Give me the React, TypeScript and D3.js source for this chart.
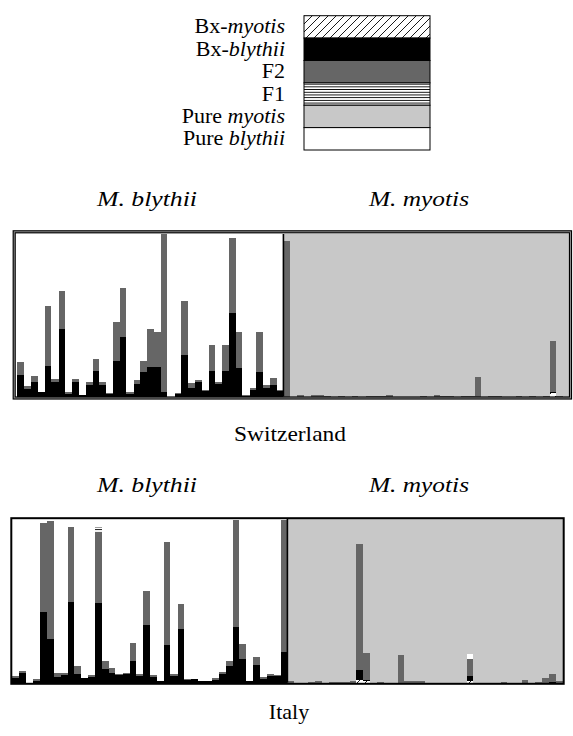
import React from "react";
import * as d3 from "d3";

// legend, top to bottom
const legendLabels = [
  ["Bx-", "myotis"],
  ["Bx-", "blythii"],
  ["F2", ""],
  ["F1", ""],
  ["Pure ", "myotis"],
  ["Pure ", "blythii"],
];
const legendKeys = ["bxm", "bxb", "f2", "f1", "pm", "pb"];

// stacking order of every bar, bottom to top
const keys = ["bxm", "bxb", "f2", "f1", "pb", "pm"];

// Switzerland, M. blythii (39 bats)
const swBlyBxB = [0.13, 0.045, 0.09, 0.027, 0.19, 0.09, 0.416, 0.016, 0.09, 0.01, 0.07, 0.154, 0.07, 0.014, 0.22, 0.367, 0.016, 0.078, 0.148, 0.18, 0.18, 0.03, 0, 0.018, 0.256, 0.053, 0.09, 0.035, 0.154, 0.078, 0.154, 0.514, 0.176, 0.006, 0.037, 0.148, 0.053, 0.07, 0.035];
const swBlyF2 = [0.085, 0.02, 0.037, 0.003, 0.367, 0.02, 0.234, 0.012, 0.02, 0, 0.02, 0.076, 0.02, 0.01, 0.24, 0.303, 0.012, 0.022, 0.072, 0.236, 0.22, 0.97, 0, 0.005, 0.334, 0.031, 0.01, 0.002, 0.166, 0.012, 0.166, 0.459, 0.224, 0.004, 0.016, 0.252, 0.017, 0.045, 0.002];
const swBlyF1 = [0, 0, 0, 0, 0, 0, 0.006, 0, 0, 0, 0, 0.005, 0, 0, 0, 0, 0, 0, 0, 0, 0, 0, 0, 0, 0, 0, 0, 0, 0, 0, 0, 0.005, 0, 0, 0, 0, 0, 0, 0];

// Switzerland, M. myotis (42 bats)
const swMyoF2 = [0.957, 0, 0.01, 0, 0.01, 0.01, 0.006, 0, 0.006, 0, 0.006, 0, 0.006, 0.006, 0.006, 0.01, 0, 0, 0, 0, 0.006, 0, 0.01, 0.006, 0.006, 0, 0.006, 0.006, 0.12, 0, 0.006, 0.006, 0, 0, 0.006, 0, 0.006, 0, 0.006, 0.31, 0.006, 0];
const swMyoBxB = [0, 0, 0, 0, 0, 0, 0, 0, 0, 0, 0, 0, 0, 0, 0, 0, 0, 0, 0, 0, 0, 0, 0, 0, 0, 0, 0, 0, 0, 0, 0, 0, 0, 0, 0, 0, 0, 0, 0, 0.01, 0, 0];
const swMyoBxM = [0, 0, 0, 0, 0, 0, 0, 0, 0, 0, 0, 0, 0, 0, 0, 0, 0, 0, 0, 0, 0, 0, 0, 0, 0, 0, 0, 0, 0, 0, 0, 0, 0, 0, 0, 0, 0, 0, 0, 0.02, 0, 0];

// Italy, M. blythii (40 bats)
const itBlyBxB = [0.027, 0.06, 0, 0.01, 0.43, 0.27, 0.037, 0.05, 0.49, 0.053, 0.026, 0.037, 0.487, 0.083, 0.06, 0.047, 0.051, 0.13, 0.043, 0.35, 0.037, 0.01, 0.23, 0.043, 0.33, 0.016, 0.023, 0.01, 0.01, 0.016, 0.053, 0.1, 0.34, 0.145, 0.01, 0.108, 0.022, 0.043, 0.043, 0.187];
const itBlyF2 = [0.013, 0.01, 0, 0.01, 0.547, 0.718, 0.023, 0.008, 0.46, 0.047, 0.004, 0.012, 0.433, 0.047, 0.03, 0.006, 0.008, 0.114, 0.01, 0.21, 0.01, 0, 0.63, 0.01, 0.15, 0.006, 0, 0, 0, 0.01, 0.012, 0.03, 0.654, 0.091, 0, 0.049, 0.012, 0.01, 0.004, 0.807];
const itBlyF1 = [0, 0, 0, 0, 0, 0, 0, 0, 0, 0, 0, 0, 0.03, 0, 0, 0, 0, 0, 0, 0, 0, 0, 0.004, 0, 0, 0, 0, 0, 0, 0, 0, 0, 0, 0, 0, 0, 0, 0, 0, 0, 0];

// Italy, M. myotis (40 bats)
const itMyoBxM = [0, 0, 0, 0, 0, 0, 0, 0, 0, 0, 0.016, 0.01, 0, 0, 0, 0, 0, 0, 0, 0, 0, 0, 0, 0, 0, 0, 0.012, 0, 0, 0, 0, 0, 0, 0, 0, 0, 0, 0, 0, 0];
const itMyoBxB = [0, 0, 0, 0, 0, 0, 0, 0, 0, 0, 0.061, 0.006, 0, 0, 0, 0, 0, 0, 0, 0, 0, 0, 0, 0, 0, 0, 0.03, 0, 0, 0, 0, 0, 0, 0, 0, 0, 0, 0, 0.006, 0];
const itMyoF2 = [0.01, 0, 0, 0.004, 0.01, 0, 0.004, 0.004, 0.004, 0.01, 0.768, 0.163, 0, 0.004, 0, 0, 0.171, 0.01, 0.01, 0.01, 0, 0, 0, 0, 0, 0, 0.104, 0, 0, 0, 0, 0.004, 0, 0, 0.016, 0, 0.004, 0.03, 0.049, 0.01];
const itMyoF1 = [0, 0, 0, 0, 0, 0, 0, 0, 0, 0, 0.004, 0.004, 0, 0, 0, 0, 0, 0, 0, 0, 0, 0, 0, 0, 0, 0, 0, 0, 0, 0, 0, 0, 0, 0, 0, 0, 0, 0, 0, 0];
const itMyoPB = [0, 0, 0, 0, 0, 0, 0, 0, 0, 0, 0, 0, 0, 0, 0, 0, 0, 0, 0, 0, 0, 0, 0, 0, 0, 0, 0.03, 0, 0, 0, 0, 0, 0, 0, 0, 0, 0, 0, 0, 0];

const fills: Record<string, string> = {
  bxm: "url(#hatch)",
  bxb: "#000",
  f2: "#666",
  f1: "url(#hlines)",
  pb: "#fff",
  pm: "#c8c8c8",
};

function makeRows(sp: string, s: Record<string, number[]>) {
  const n = (s.bxb || s.f2).length;
  return d3.range(n).map((i) => {
    const r: any = { bxm: 0, bxb: 0, f2: 0, f1: 0, pb: 0, pm: 0 };
    for (const k of Object.keys(s)) r[k] = s[k][i] || 0;
    const rest = 1 - d3.sum(keys, (k) => r[k]);
    if (sp === "b") r.pb += rest;
    else r.pm += rest;
    return r;
  });
}

const swiss = {
  bly: makeRows("b", { bxb: swBlyBxB, f2: swBlyF2, f1: swBlyF1 }),
  myo: makeRows("m", { bxm: swMyoBxM, bxb: swMyoBxB, f2: swMyoF2 }),
};
const italy = {
  bly: makeRows("b", { bxb: itBlyBxB, f2: itBlyF2, f1: itBlyF1 }),
  myo: makeRows("m", { bxm: itMyoBxM, bxb: itMyoBxB, f2: itMyoF2, f1: itMyoF1, pb: itMyoPB }),
};

function Panel({ data, x0, x1, y0, y1 }: any) {
  const rows = [...data.bly, ...data.myo];
  const x = d3.scaleBand<number>().domain(d3.range(rows.length)).range([x0, x1]);
  const y = d3.scaleLinear().domain([0, 1]).range([y0, y1]);
  const series = d3.stack<any>().keys(keys)(rows);
  const divX = x(data.bly.length) as number;
  return (
    <g>
      <g shapeRendering="crispEdges">
        {series.map((s) =>
          s.map((d, i) =>
            d[1] - d[0] > 0 ? (
              <rect
                key={s.key + i}
                x={x(i)}
                width={x.bandwidth() + 0.3}
                y={y(d[1])}
                height={y(d[0]) - y(d[1])}
                fill={fills[s.key]}
              />
            ) : null
          )
        )}
      </g>
      <line x1={divX} x2={divX} y1={y1} y2={y0} stroke="#000" strokeWidth={1.6} />
    </g>
  );
}

function Label({ x, y, italic, len, children }: any) {
  return (
    <text x={x} y={y} textAnchor="middle" fontSize={22} fontStyle={italic ? "italic" : "normal"}
      textLength={len} lengthAdjust="spacingAndGlyphs">
      {children}
    </text>
  );
}

export default function App() {
  const lx = 304, lw = 126;
  const ly = d3.scaleBand<number>().domain(d3.range(6)).range([15.7, 150]);
  const font = "Liberation Serif, serif";
  return (
    <div style={{ position: "absolute", left: 0, top: 0 }}>
      <svg width={573} height={736} style={{ display: "block", background: "#fff", fontFamily: font }}>
        <defs>
          <pattern id="hatch" patternUnits="userSpaceOnUse" width={8} height={8}>
            <rect width={8} height={8} fill="#fff" />
            <path d="M0,8 L8,0 M-2,2 L2,-2 M6,10 L10,6" stroke="#000" strokeWidth={0.9} />
          </pattern>
          <pattern id="hlines" patternUnits="userSpaceOnUse" width={8} height={2.7}>
            <rect width={8} height={2.7} fill="#fff" />
            <rect y={0} width={8} height={0.9} fill="#000" />
          </pattern>
        </defs>

        {/* legend */}
        {legendKeys.map((k, i) => (
          <g key={k}>
            <rect x={lx} y={ly(i)} width={lw} height={ly.bandwidth()} fill={fills[k]} stroke="#000" strokeWidth={1} />
            <text x={285} y={(ly(i) as number) + ly.bandwidth() / 2 + 6.5} textAnchor="end" fontSize={22}>
              {legendLabels[i][0]}
              <tspan fontStyle="italic">{legendLabels[i][1]}</tspan>
            </text>
          </g>
        ))}

        {/* Switzerland */}
        <Label x={147} y={206} italic len={100}>M. blythii</Label>
        <Label x={419} y={206} italic len={100}>M. myotis</Label>
        <Panel data={swiss} x0={17.3} x1={570} y0={396.5} y1={234} />
        <rect x={14.2} y={231.8} width={556.3} height={166.2} fill="none" stroke="#000" strokeWidth={3.2} />
        <rect x={14.2} y={231.8} width={556.3} height={166.2} fill="none" stroke="#999" strokeWidth={0.9} />
        <Label x={290} y={441} len={112}>Switzerland</Label>

        {/* Italy */}
        <Label x={147} y={492} italic len={100}>M. blythii</Label>
        <Label x={419} y={492} italic len={100}>M. myotis</Label>
        <Panel data={italy} x0={12.3} x1={562.5} y0={682.7} y1={519} />
        <rect x={11.3} y={518.2} width={552.4} height={165.6} fill="none" stroke="#000" strokeWidth={2} />
        <text x={289} y={719} textAnchor="middle" fontSize={22}>Italy</text>
      </svg>
    </div>
  );
}
